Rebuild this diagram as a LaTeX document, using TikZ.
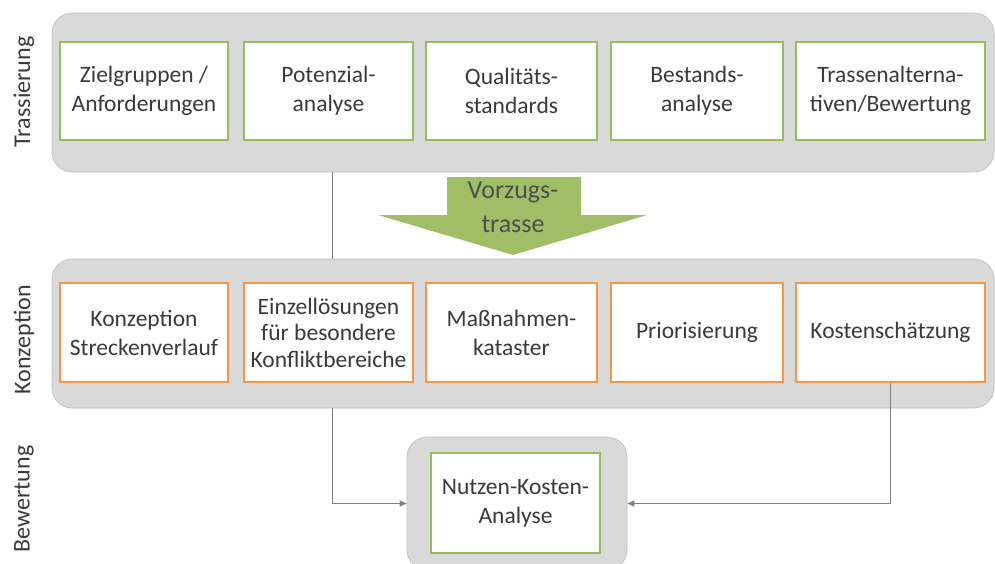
\documentclass[tikz,border=0pt]{standalone}
\usepackage{fontspec}
\setmainfont{Carlito}
\usetikzlibrary{arrows.meta,positioning}

\definecolor{panelgray}{HTML}{D9D9D9}
\definecolor{boxgreen}{HTML}{9BBB59}
\definecolor{boxorange}{HTML}{F79646}
\definecolor{textgray}{HTML}{3A3A3A}
\definecolor{linegray}{HTML}{808080}
\definecolor{arrowgreen}{HTML}{A0BE66}

\begin{document}
\begin{tikzpicture}[x=1pt, y=-1pt, >={Triangle[length=7pt,width=6pt]},
  panel/.style={fill=panelgray, draw=panelgray!88!black, line width=0.6pt, rounded corners=20pt, inner sep=0pt},
  gbox/.style={draw=boxgreen, line width=1.8pt, fill=white, align=center, text=textgray, font=\fontsize{23.5}{29}\selectfont, minimum height=98pt},
  obox/.style={draw=boxorange, line width=1.8pt, fill=white, align=center, text=textgray, font=\fontsize{23.5}{29}\selectfont, minimum height=99pt},
  lane/.style={rotate=90, text=textgray, font=\fontsize{24}{29}\selectfont},
  conn/.style={draw=linegray, line width=1.2pt}]
  \clip (0,0) rectangle (995,563);
  \fill[white] (0,0) rectangle (995,563);
  % --- Panels ---
  \node[panel, minimum width=942pt, minimum height=159pt] (ptrass) at (523,92.5) {};
  \node[panel, minimum width=942pt, minimum height=149pt] (pkonz) at (523,333.5) {};
  \node[panel, minimum width=220pt, minimum height=133pt] (pbew) at (517,503.5) {};
  % --- Row 1: Trassierung ---
  \node[gbox, minimum width=168pt] (t1) at (144,91) {Zielgruppen /\\Anforderungen};
  \node[gbox, minimum width=169pt] (t2) at (328.5,91) {Potenzial-\\analyse};
  \node[gbox, minimum width=171pt] (t3) at (511.5,91) {Qualitäts-\\standards};
  \node[gbox, minimum width=172pt] (t4) at (697,91) {Bestands-\\analyse};
  \node[gbox, minimum width=189pt] (t5) at (890.5,91) {Trassenalterna-\\tiven/Bewertung};
  % --- Row 2: Konzeption ---
  \node[obox, minimum width=168pt] (k1) at (144,332.5) {Konzeption\\Streckenverlauf};
  \node[obox, minimum width=169pt, font=\fontsize{23.5}{26.5}\selectfont] (k2) at (328.5,332.5) {Einzellösungen\\für besondere\\Konfliktbereiche};
  \node[obox, minimum width=171pt] (k3) at (511.5,332.5) {Maßnahmen-\\kataster};
  \node[obox, minimum width=172pt] (k4) at (697,332.5) {Priorisierung};
  \node[obox, minimum width=189pt] (k5) at (890.5,332.5) {Kostenschätzung};
  % --- Row 3: Bewertung ---
  \node[gbox, minimum width=169pt, minimum height=100pt] (n1) at (515.5,503) {Nutzen-Kosten-\\Analyse};
  % --- Vorzugstrasse arrow ---
  \fill[arrowgreen] (447,177) -- (581,177) -- (581,215) -- (647,215) -- (513,255)
    -- (378,215) -- (447,215) -- cycle;
  \node[align=center, text=textgray!90, font=\fontsize{26}{34}\selectfont] (vt) at (513,207) {Vorzugs-\\trasse};
  % --- Connectors ---
  \coordinate (c2) at ([xshift=4pt]t2.center);
  \draw[conn] (ptrass.south -| c2) -- (pkonz.north -| c2);
  \draw[conn, ->] (pkonz.south -| c2) |- (pbew.west);
  \draw[conn, ->] (k5.south) |- (pbew.east);
  % Lane labels
  \node[lane] (lt) at (24,92) {Trassierung};
  \node[lane] (lk) at (24,340) {Konzeption};
  \node[lane] (lb) at (24,499) {Bewertung};
\end{tikzpicture}
\end{document}
